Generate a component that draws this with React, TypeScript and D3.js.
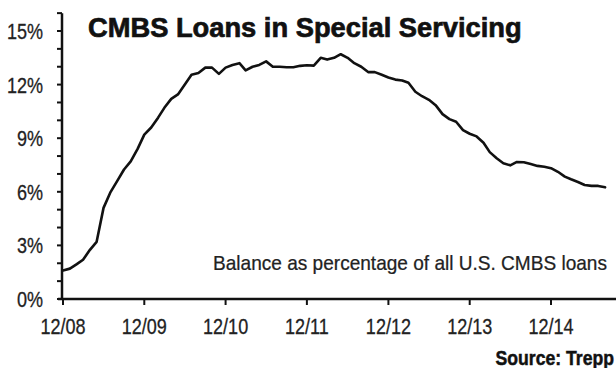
import React from "react";
import * as d3 from "d3";

// Monthly values, Dec 2008 (index 0) to Aug 2015
const startYear = 2008;
const startMonth = 11; // December (0-based)
const values: number[] = [
  1.6, 1.7, 1.95, 2.2, 2.75, 3.2, 5.1, 5.95, 6.6, 7.25,
  7.7, 8.4, 9.2, 9.6, 10.15, 10.7, 11.2, 11.45, 12.0, 12.55,
  12.65, 12.95, 12.95, 12.6, 12.95, 13.1, 13.2, 12.8, 13.0, 13.1,
  13.3, 13.0, 13.0, 12.97, 12.97, 13.05, 13.08, 13.06, 13.5, 13.4,
  13.5, 13.7, 13.5, 13.2, 13.0, 12.7, 12.7, 12.55, 12.4, 12.28,
  12.23, 12.1, 11.6, 11.35, 11.15, 10.85, 10.35, 10.07, 9.92, 9.45,
  9.25, 9.1, 8.75, 8.22, 7.88, 7.6, 7.48, 7.67, 7.65, 7.55,
  7.45, 7.4, 7.32, 7.12, 6.85, 6.7, 6.55, 6.38, 6.33, 6.33,
  6.25,
];
const xTickLabels = ["12/08", "12/09", "12/10", "12/11", "12/12", "12/13", "12/14"];
const yTicks = [0, 3, 6, 9, 12, 15];
const yMinorTicks = d3.range(0, 17, 1);
const title = "CMBS Loans in Special Servicing";
const subtitle = "Balance as percentage of all U.S. CMBS loans";
const source = "Source: Trepp";

const W = 616;
const H = 368;
const FONT = "'Liberation Sans', Arial, sans-serif";
const NARROW = 0.82;

export default function App() {
  const dates = values.map((_, i) => new Date(startYear, startMonth + i, 1));
  const x = d3
    .scaleTime()
    .domain([new Date(2008, 11, 1), new Date(2014, 11, 1)])
    .range([63, 551]);
  const y = d3.scaleLinear().domain([0, 15]).range([299, 31]);
  const line = d3
    .line<number>()
    .x((_, i) => x(dates[i]))
    .y((d) => y(d))
    .curve(d3.curveLinear);
  const xTicks = xTickLabels.map((_, i) => new Date(2008 + i, 11, 1));
  const axisX = 62;
  const axisY = y(0);

  return (
    <svg
      width={W}
      height={H}
      style={{ position: "absolute", left: 0, top: 0, background: "#fff" }}
    >
      <rect x={0} y={0} width={W} height={H} fill="#fff" />
      {/* Title */}
      <text
        transform="translate(88,37) scale(0.975,1)"
        fontFamily={FONT}
        fontWeight="bold"
        fontSize={28}
        fill="#111"
        stroke="#111"
        strokeWidth={0.7}
      >
        {title}
      </text>
      {/* Y axis */}
      <line x1={axisX} x2={axisX} y1={y(16)} y2={axisY} stroke="#111" strokeWidth={2.5} />
      {yMinorTicks.map((t) => (
        <line
          key={"m" + t}
          x1={axisX - 5}
          x2={axisX}
          y1={y(t)}
          y2={y(t)}
          stroke="#111"
          strokeWidth={2}
        />
      ))}
      {yTicks.map((t) => (
        <text
          key={"yl" + t}
          transform={`translate(43,${y(t)}) scale(${NARROW},1)`}
          dy="0.36em"
          textAnchor="end"
          fontFamily={FONT}
          fontSize={22}
          fill="#222"
          stroke="#222"
          strokeWidth={0.3}
        >
          {t + "%"}
        </text>
      ))}
      {/* X axis */}
      <line x1={axisX - 4} x2={W} y1={axisY} y2={axisY} stroke="#111" strokeWidth={2.5} />
      {xTicks.map((d, i) => (
        <g key={"xt" + i}>
          <line
            x1={x(d)}
            x2={x(d)}
            y1={axisY}
            y2={axisY + 6}
            stroke="#111"
            strokeWidth={2}
          />
          <text
            transform={`translate(${x(d)},334) scale(${NARROW},1)`}
            textAnchor="middle"
            fontFamily={FONT}
            fontSize={22}
            fill="#222"
            stroke="#222"
            strokeWidth={0.3}
          >
            {xTickLabels[i]}
          </text>
        </g>
      ))}
      {/* Data line */}
      <path
        d={line(values) || ""}
        fill="none"
        stroke="#111"
        strokeWidth={2.6}
        strokeLinejoin="round"
        strokeLinecap="round"
      />
      {/* Subtitle */}
      <text
        transform="translate(607,270) scale(0.93,1)"
        textAnchor="end"
        fontFamily={FONT}
        fontSize={20.5}
        fill="#222"
        stroke="#222"
        strokeWidth={0.25}
      >
        {subtitle}
      </text>
      {/* Source */}
      <text
        transform="translate(614,365) scale(0.84,1)"
        textAnchor="end"
        fontFamily={FONT}
        fontWeight="bold"
        fontSize={21}
        fill="#111"
        stroke="#111"
        strokeWidth={0.5}
      >
        {source}
      </text>
    </svg>
  );
}
